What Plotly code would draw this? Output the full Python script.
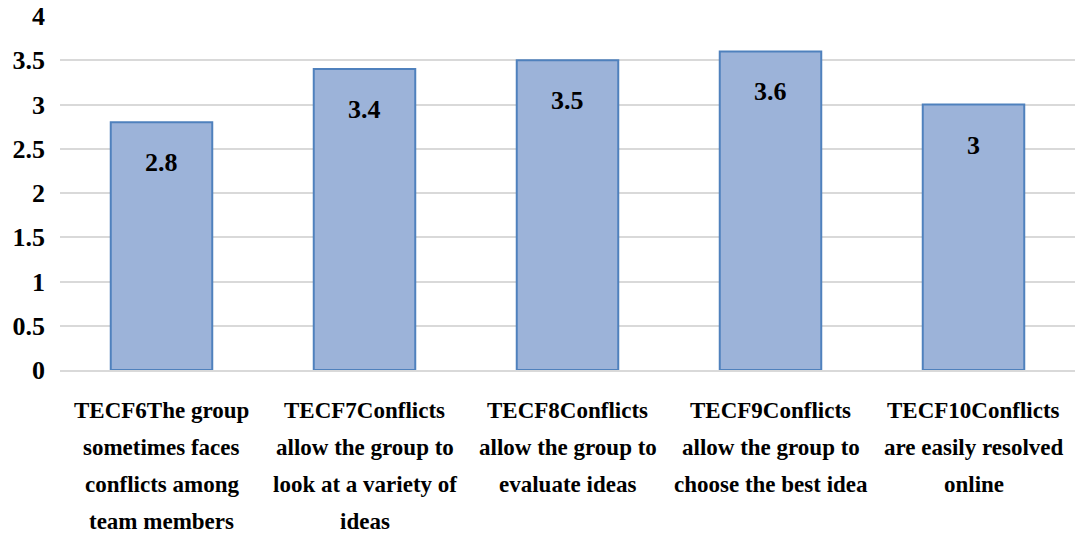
import plotly.graph_objects as go

# Chart data
categories = ["TECF6", "TECF7", "TECF8", "TECF9", "TECF10"]
category_lines = [
    ["TECF6The group", "sometimes faces", "conflicts among", "team members"],
    ["TECF7Conflicts", "allow the group to", "look at a variety of", "ideas"],
    ["TECF8Conflicts", "allow the group to", "evaluate ideas"],
    ["TECF9Conflicts", "allow the group to", "choose the best idea"],
    ["TECF10Conflicts", "are easily resolved", "online"],
]
values = [2.8, 3.4, 3.5, 3.6, 3.0]
value_labels = ["2.8", "3.4", "3.5", "3.6", "3"]

FONT = "Liberation Serif"

fig = go.Figure(
    go.Bar(
        x=categories,
        y=values,
        width=0.5,
        marker=dict(color="#9CB3D9", line=dict(color="#4F81BD", width=2)),
        hoverinfo="skip",
    )
)

# value labels sit inside the bar, a little below the top
for cat, val, lab in zip(categories, values, value_labels):
    fig.add_annotation(
        x=cat, y=val, text="<b>%s</b>" % lab, showarrow=False,
        yanchor="top", yshift=-24,
        font=dict(family=FONT, size=26, color="black"),
    )

# category labels drawn line by line so the line spacing matches the original
for cat, lines in zip(categories, category_lines):
    for i, line in enumerate(lines):
        fig.add_annotation(
            x=cat, y=0, text="<b>%s</b>" % line, showarrow=False,
            yanchor="top", yshift=-26 - 37 * i,
            font=dict(family=FONT, size=23, color="black"),
        )

fig.update_layout(
    width=1075,
    height=539,
    margin=dict(l=60, r=0, t=16, b=169),
    plot_bgcolor="white",
    paper_bgcolor="white",
    showlegend=False,
    font=dict(family=FONT, color="black"),
)
fig.update_yaxes(
    range=[0, 4],
    dtick=0.5,
    showgrid=True,
    gridcolor="#D9D9D9",
    gridwidth=2,
    zeroline=False,
    showline=False,
    ticks="",
    automargin=False,
    ticklabelstandoff=14,
    tickfont=dict(family=FONT, size=26, weight="bold", color="black"),
)
fig.update_xaxes(
    showline=True,
    linecolor="#D9D9D9",
    linewidth=2,
    ticks="",
    showticklabels=False,
    automargin=False,
)

# page body has a default 8px margin; drop it so the figure fills the window
fig.write_html("out.html", config={"displayModeBar": False},
               post_script="document.body.style.margin='0';")
